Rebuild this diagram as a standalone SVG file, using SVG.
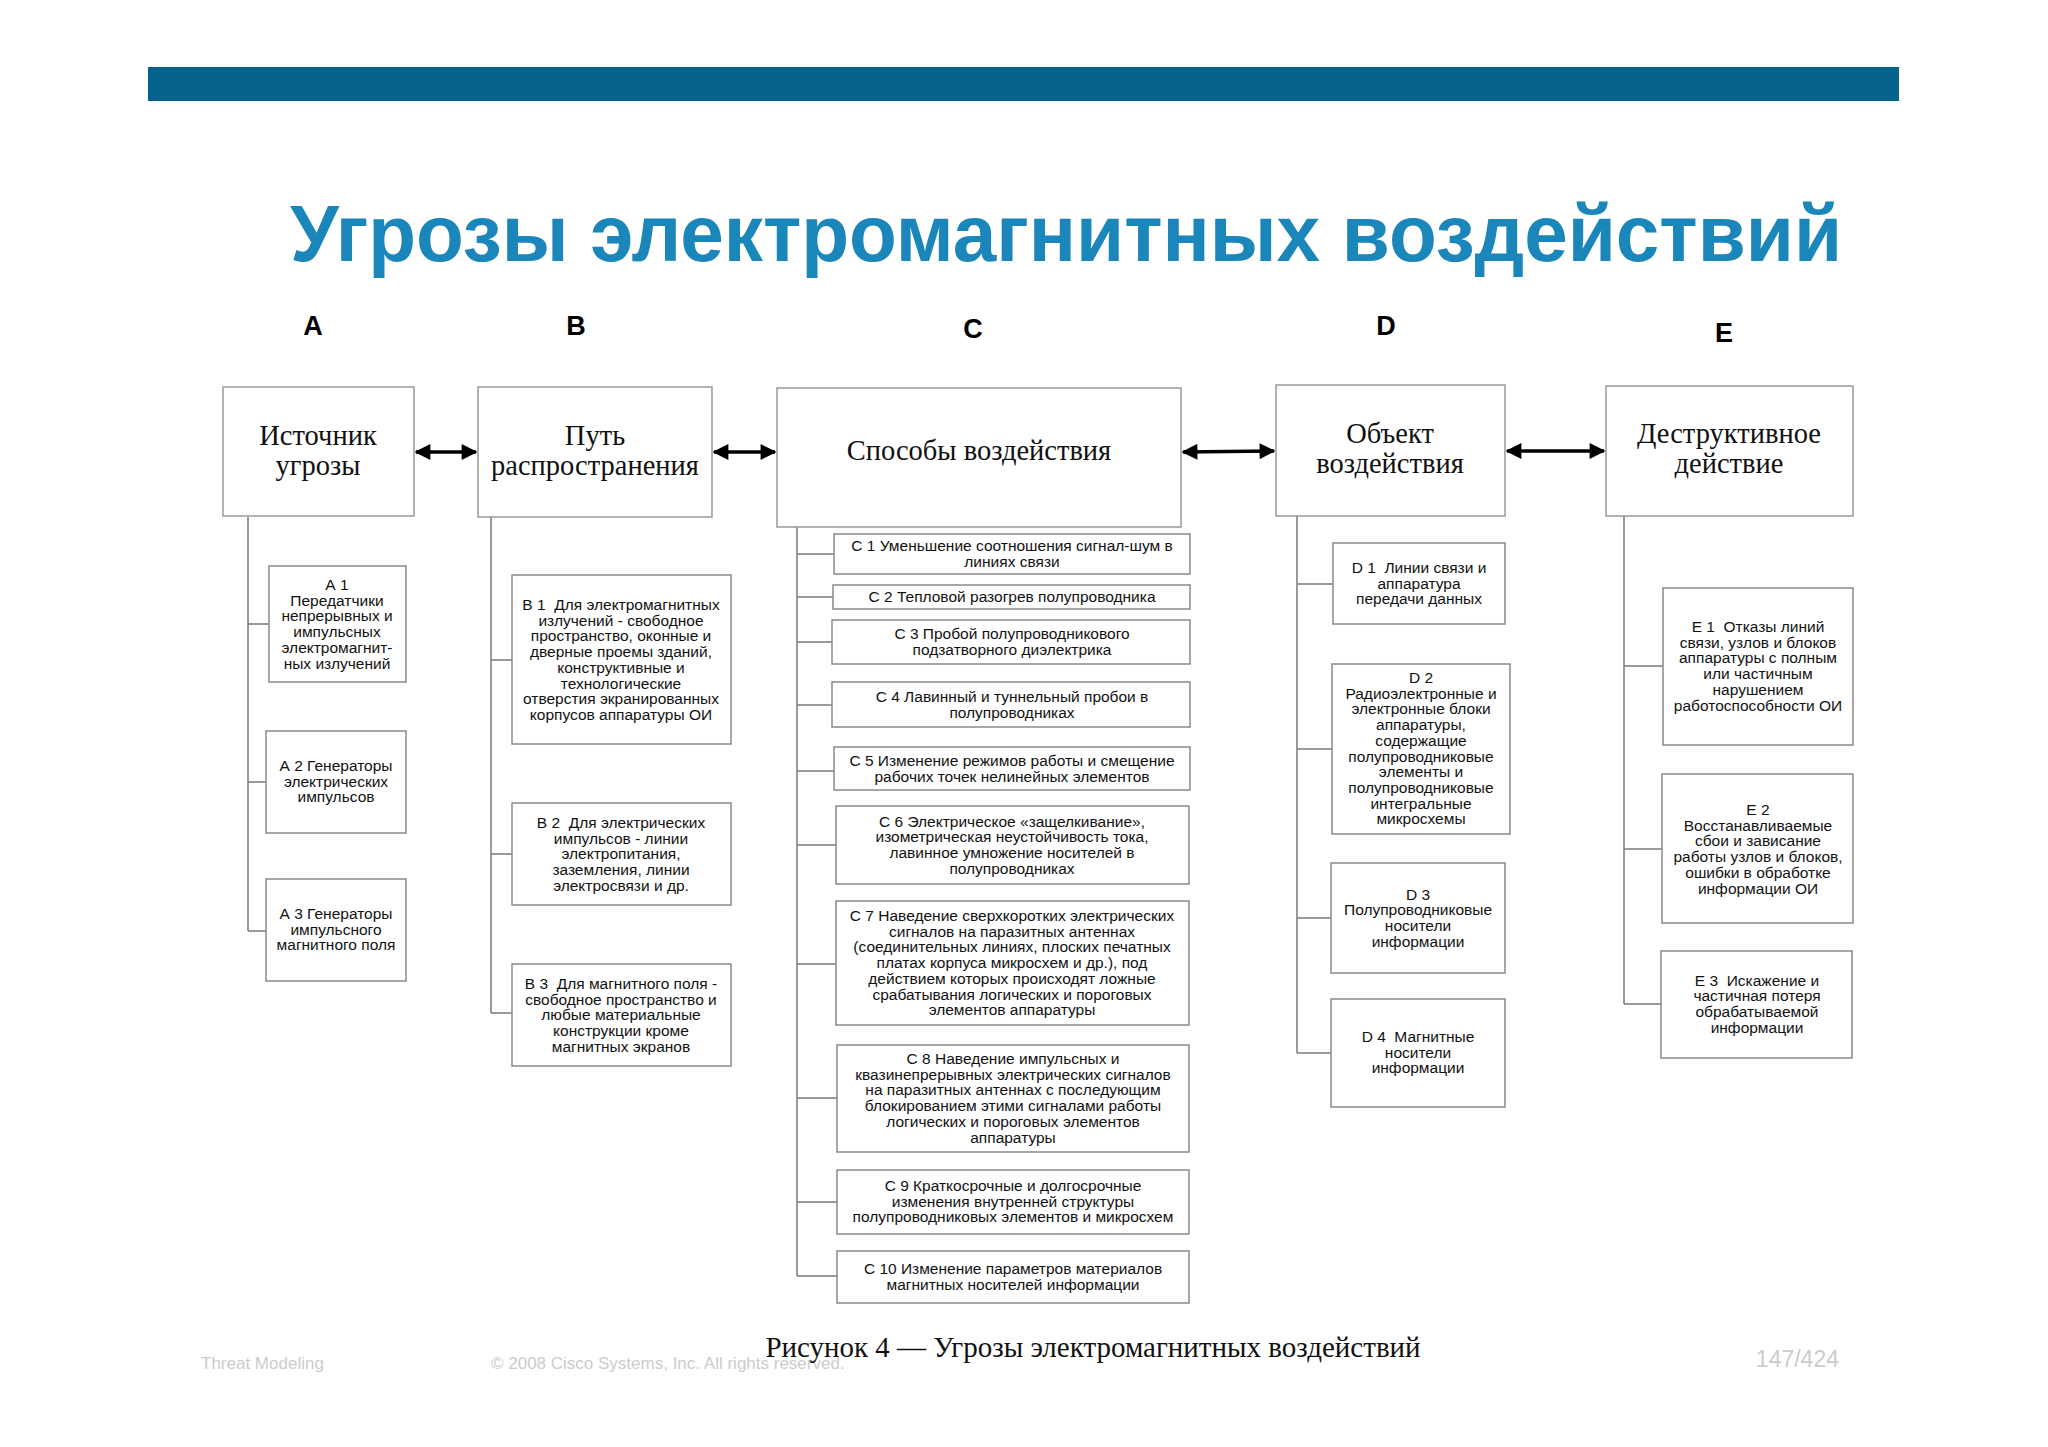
<svg xmlns="http://www.w3.org/2000/svg" width="2048" height="1447" viewBox="0 0 2048 1447">
<style>
.bx{fill:#fff;stroke:#8a8a8a;stroke-width:1.5}
.mb{fill:#fff;stroke:#999;stroke-width:1.5}
.ln{stroke:#7a7a7a;stroke-width:1.5;fill:none}
.ar{stroke:#000;stroke-width:3.5;fill:none}
.s{font-family:"Liberation Sans",Arial,sans-serif;font-size:15.5px;fill:#111;text-anchor:middle;white-space:pre}
.m{font-family:"Liberation Serif","Times New Roman",serif;font-size:28.5px;fill:#111;text-anchor:middle}
.l{font-family:"Liberation Sans",Arial,sans-serif;font-size:27px;font-weight:bold;fill:#000;text-anchor:middle}
.f{font-family:"Liberation Sans",Arial,sans-serif;font-size:17px;fill:#ccc}
</style>
<defs>
<marker id="ah" viewBox="0 0 10 10" refX="9" refY="5" markerWidth="26" markerHeight="16" markerUnits="userSpaceOnUse" orient="auto-start-reverse"><path d="M0,0L10,5L0,10z" fill="#000"/></marker>
</defs>
<rect width="2048" height="1447" fill="#fff"/>
<rect x="148" y="67" width="1751" height="34" fill="#05628a"/>
<text x="1066" y="261" font-family="'Liberation Sans',Arial,sans-serif" font-size="80" font-weight="bold" fill="#1a86ba" text-anchor="middle" textLength="1552" lengthAdjust="spacingAndGlyphs">Угрозы электромагнитных воздействий</text>
<text class="l" x="313" y="335">A</text><text class="l" x="576" y="335">B</text><text class="l" x="973" y="338">C</text><text class="l" x="1386" y="335">D</text><text class="l" x="1724" y="342">E</text>

<g id="connectors">
<path class="ln" d="M248,517V931M248,624H269M248,782H266M248,931H266"/>
<path class="ln" d="M491,517V1013M491,660H512M491,854H512M491,1013H512"/>
<path class="ln" d="M797,527V1276M797,554H834M797,597H833M797,642H832M797,705H832M797,771H834M797,845H836M797,964H836M797,1098H837M797,1202H837M797,1276H837"/>
<path class="ln" d="M1297,516V1053M1297,584H1333M1297,749H1332M1297,918H1331M1297,1053H1331"/>
<path class="ln" d="M1624,516V1004M1624,666H1663M1624,849H1662M1624,1004H1661"/>
<line class="ar" x1="416" y1="452" x2="476" y2="452" marker-start="url(#ah)" marker-end="url(#ah)"/>
<line class="ar" x1="714" y1="452" x2="775" y2="452" marker-start="url(#ah)" marker-end="url(#ah)"/>
<line class="ar" x1="1183" y1="452" x2="1274" y2="451" marker-start="url(#ah)" marker-end="url(#ah)"/>
<line class="ar" x1="1507" y1="451" x2="1604" y2="451" marker-start="url(#ah)" marker-end="url(#ah)"/>
</g>

<g id="A"><rect class="mb" x="223" y="387" width="191" height="129"/><text class="m" x="318" y="445">Источник<tspan x="318" dy="30">угрозы</tspan></text></g>
<g id="B"><rect class="mb" x="478" y="387" width="234" height="130"/><text class="m" x="595" y="445">Путь<tspan x="595" dy="30">распространения</tspan></text></g>
<g id="C"><rect class="mb" x="777" y="388" width="404" height="139"/><text class="m" x="979" y="460">Способы воздействия</text></g>
<g id="D"><rect class="mb" x="1276" y="385" width="229" height="131"/><text class="m" x="1390" y="443">Объект<tspan x="1390" dy="30">воздействия</tspan></text></g>
<g id="E"><rect class="mb" x="1606" y="386" width="247" height="130"/><text class="m" x="1729" y="443">Деструктивное<tspan x="1729" dy="30">действие</tspan></text></g>

<g id="A1"><rect class="bx" x="269" y="566" width="137" height="116"/><text class="s" y="590"><tspan x="337">А 1</tspan><tspan x="337" dy="15.7">Передатчики</tspan><tspan x="337" dy="15.7">непрерывных и</tspan><tspan x="337" dy="15.7">импульсных</tspan><tspan x="337" dy="15.7">электромагнит-</tspan><tspan x="337" dy="15.7">ных излучений</tspan></text></g>
<g id="A2"><rect class="bx" x="266" y="731" width="140" height="102"/><text class="s" y="771"><tspan x="336">А 2 Генераторы</tspan><tspan x="336" dy="15.7">электрических</tspan><tspan x="336" dy="15.7">импульсов</tspan></text></g>
<g id="A3"><rect class="bx" x="266" y="879" width="140" height="102"/><text class="s" y="919"><tspan x="336">А 3 Генераторы</tspan><tspan x="336" dy="15.7">импульсного</tspan><tspan x="336" dy="15.7">магнитного поля</tspan></text></g>

<g id="B1"><rect class="bx" x="512" y="575" width="219" height="169"/><text class="s" y="610"><tspan x="621">В 1  Для электромагнитных</tspan><tspan x="621" dy="15.7">излучений - свободное</tspan><tspan x="621" dy="15.7">пространство, оконные и</tspan><tspan x="621" dy="15.7">дверные проемы зданий,</tspan><tspan x="621" dy="15.7">конструктивные и</tspan><tspan x="621" dy="15.7">технологические</tspan><tspan x="621" dy="15.7">отверстия экранированных</tspan><tspan x="621" dy="15.7">корпусов аппаратуры ОИ</tspan></text></g>
<g id="B2"><rect class="bx" x="512" y="803" width="219" height="102"/><text class="s" y="828"><tspan x="621">В 2  Для электрических</tspan><tspan x="621" dy="15.7">импульсов - линии</tspan><tspan x="621" dy="15.7">электропитания,</tspan><tspan x="621" dy="15.7">заземления, линии</tspan><tspan x="621" dy="15.7">электросвязи и др.</tspan></text></g>
<g id="B3"><rect class="bx" x="512" y="964" width="219" height="102"/><text class="s" y="989"><tspan x="621">В 3  Для магнитного поля -</tspan><tspan x="621" dy="15.7">свободное пространство и</tspan><tspan x="621" dy="15.7">любые материальные</tspan><tspan x="621" dy="15.7">конструкции кроме</tspan><tspan x="621" dy="15.7">магнитных экранов</tspan></text></g>

<g id="C1"><rect class="bx" x="834" y="534" width="356" height="40"/><text class="s" y="551"><tspan x="1012">С 1 Уменьшение соотношения сигнал-шум в</tspan><tspan x="1012" dy="15.7">линиях связи</tspan></text></g>
<g id="C2"><rect class="bx" x="833" y="585" width="357" height="24"/><text class="s" x="1012" y="602">С 2 Тепловой разогрев полупроводника</text></g>
<g id="C3"><rect class="bx" x="832" y="620" width="358" height="44"/><text class="s" y="639"><tspan x="1012">С 3 Пробой полупроводникового</tspan><tspan x="1012" dy="15.7">подзатворного диэлектрика</tspan></text></g>
<g id="C4"><rect class="bx" x="832" y="682" width="358" height="45"/><text class="s" y="702"><tspan x="1012">С 4 Лавинный и туннельный пробои в</tspan><tspan x="1012" dy="15.7">полупроводниках</tspan></text></g>
<g id="C5"><rect class="bx" x="834" y="747" width="356" height="43"/><text class="s" y="766"><tspan x="1012">С 5 Изменение режимов работы и смещение</tspan><tspan x="1012" dy="15.7">рабочих точек нелинейных элементов</tspan></text></g>
<g id="C6"><rect class="bx" x="836" y="806" width="353" height="78"/><text class="s" y="826.5"><tspan x="1012">С 6 Электрическое «защелкивание»,</tspan><tspan x="1012" dy="15.7">изометрическая неустойчивость тока,</tspan><tspan x="1012" dy="15.7">лавинное умножение носителей в</tspan><tspan x="1012" dy="15.7">полупроводниках</tspan></text></g>
<g id="C7"><rect class="bx" x="836" y="901" width="353" height="124"/><text class="s" y="921"><tspan x="1012">С 7 Наведение сверхкоротких электрических</tspan><tspan x="1012" dy="15.7">сигналов на паразитных антеннах</tspan><tspan x="1012" dy="15.7">(соединительных линиях, плоских печатных</tspan><tspan x="1012" dy="15.7">платах корпуса микросхем и др.), под</tspan><tspan x="1012" dy="15.7">действием которых происходят ложные</tspan><tspan x="1012" dy="15.7">срабатывания логических и пороговых</tspan><tspan x="1012" dy="15.7">элементов аппаратуры</tspan></text></g>
<g id="C8"><rect class="bx" x="837" y="1045" width="352" height="107"/><text class="s" y="1064"><tspan x="1013">С 8 Наведение импульсных и</tspan><tspan x="1013" dy="15.7">квазинепрерывных электрических сигналов</tspan><tspan x="1013" dy="15.7">на паразитных антеннах с последующим</tspan><tspan x="1013" dy="15.7">блокированием этими сигналами работы</tspan><tspan x="1013" dy="15.7">логических и пороговых элементов</tspan><tspan x="1013" dy="15.7">аппаратуры</tspan></text></g>
<g id="C9"><rect class="bx" x="837" y="1170" width="352" height="64"/><text class="s" y="1191"><tspan x="1013">С 9 Краткосрочные и долгосрочные</tspan><tspan x="1013" dy="15.7">изменения внутренней структуры</tspan><tspan x="1013" dy="15.7">полупроводниковых элементов и микросхем</tspan></text></g>
<g id="C10"><rect class="bx" x="837" y="1251" width="352" height="52"/><text class="s" y="1274"><tspan x="1013">С 10 Изменение параметров материалов</tspan><tspan x="1013" dy="15.7">магнитных носителей информации</tspan></text></g>

<g id="D1"><rect class="bx" x="1333" y="543" width="172" height="81"/><text class="s" y="573"><tspan x="1419">D 1  Линии связи и</tspan><tspan x="1419" dy="15.7">аппаратура</tspan><tspan x="1419" dy="15.7">передачи данных</tspan></text></g>
<g id="D2"><rect class="bx" x="1332" y="664" width="178" height="170"/><text class="s" y="683"><tspan x="1421">D 2</tspan><tspan x="1421" dy="15.7">Радиоэлектронные и</tspan><tspan x="1421" dy="15.7">электронные блоки</tspan><tspan x="1421" dy="15.7">аппаратуры,</tspan><tspan x="1421" dy="15.7">содержащие</tspan><tspan x="1421" dy="15.7">полупроводниковые</tspan><tspan x="1421" dy="15.7">элементы и</tspan><tspan x="1421" dy="15.7">полупроводниковые</tspan><tspan x="1421" dy="15.7">интегральные</tspan><tspan x="1421" dy="15.7">микросхемы</tspan></text></g>
<g id="D3"><rect class="bx" x="1331" y="863" width="174" height="110"/><text class="s" y="899.5"><tspan x="1418">D 3</tspan><tspan x="1418" dy="15.7">Полупроводниковые</tspan><tspan x="1418" dy="15.7">носители</tspan><tspan x="1418" dy="15.7">информации</tspan></text></g>
<g id="D4"><rect class="bx" x="1331" y="999" width="174" height="108"/><text class="s" y="1042"><tspan x="1418">D 4  Магнитные</tspan><tspan x="1418" dy="15.7">носители</tspan><tspan x="1418" dy="15.7">информации</tspan></text></g>

<g id="E1"><rect class="bx" x="1663" y="588" width="190" height="157"/><text class="s" y="632"><tspan x="1758">Е 1  Отказы линий</tspan><tspan x="1758" dy="15.7">связи, узлов и блоков</tspan><tspan x="1758" dy="15.7">аппаратуры с полным</tspan><tspan x="1758" dy="15.7">или частичным</tspan><tspan x="1758" dy="15.7">нарушением</tspan><tspan x="1758" dy="15.7">работоспособности ОИ</tspan></text></g>
<g id="E2"><rect class="bx" x="1662" y="774" width="191" height="149"/><text class="s" y="815"><tspan x="1758">Е 2</tspan><tspan x="1758" dy="15.7">Восстанавливаемые</tspan><tspan x="1758" dy="15.7">сбои и зависание</tspan><tspan x="1758" dy="15.7">работы узлов и блоков,</tspan><tspan x="1758" dy="15.7">ошибки в обработке</tspan><tspan x="1758" dy="15.7">информации ОИ</tspan></text></g>
<g id="E3"><rect class="bx" x="1661" y="951" width="191" height="107"/><text class="s" y="985.5"><tspan x="1757">Е 3  Искажение и</tspan><tspan x="1757" dy="15.7">частичная потеря</tspan><tspan x="1757" dy="15.7">обрабатываемой</tspan><tspan x="1757" dy="15.7">информации</tspan></text></g>

<text class="f" x="201" y="1369">Threat Modeling</text>
<text class="f" x="491" y="1369">© 2008 Cisco Systems, Inc. All rights reserved.</text>
<text x="1093" y="1357" font-family="'Liberation Serif','Times New Roman',serif" font-size="29" fill="#111" text-anchor="middle">Рисунок 4 — Угрозы электромагнитных воздействий</text>
<text x="1839" y="1367" font-family="'Liberation Sans',Arial,sans-serif" font-size="23" fill="#ccc" text-anchor="end">147/424</text>
</svg>
